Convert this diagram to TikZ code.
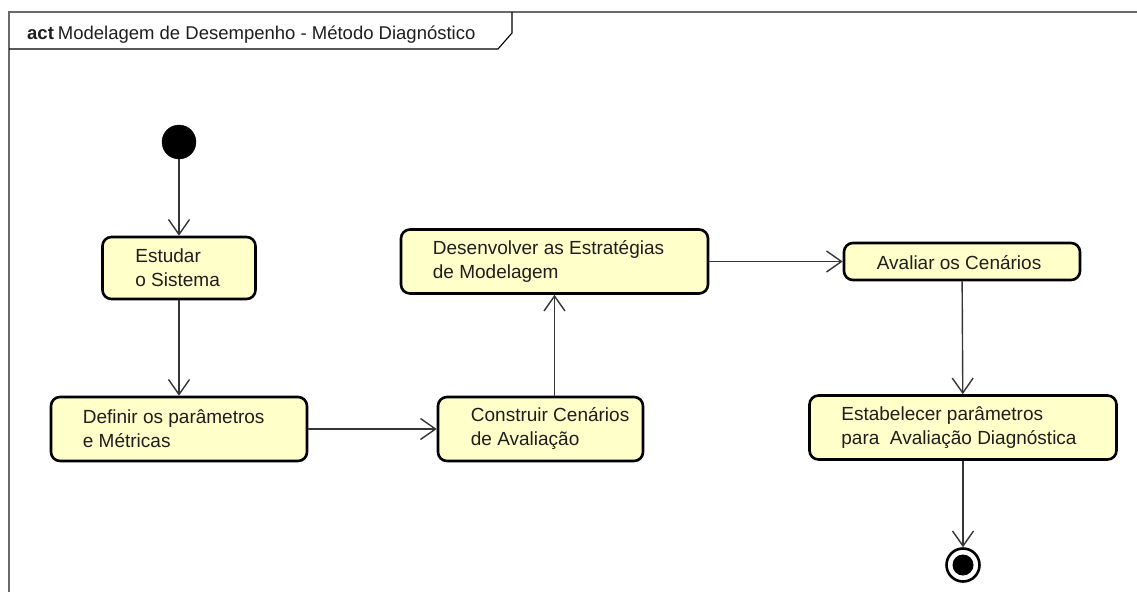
\documentclass[tikz,border=0pt]{standalone}
\usepackage{fontspec}
\setmainfont{Liberation Sans}
\usetikzlibrary{arrows.meta}
\definecolor{actfill}{HTML}{FFFFCA}
\definecolor{framegray}{HTML}{6A6A6A}
\definecolor{ink}{HTML}{1E1E1E}
\begin{document}
\begin{tikzpicture}[x=1pt,y=-1pt,
  every node/.style={font=\fontsize{19}{24}\selectfont, text=ink},
  actbox/.style={draw=black, rounded corners=9pt, line width=2.6pt, fill=actfill, inner sep=0pt},
  actlabel/.style={anchor=west, align=left, inner sep=0pt},
  flow/.style={draw=ink!90, line width=1.4pt, -{Straight Barb[length=15pt,width=21pt,line width=1.4pt]}},
  startdot/.style={circle, fill=black, draw=black, minimum size=34pt, inner sep=0pt},
  endring/.style={circle, draw=black, fill=white, line width=2.6pt, minimum size=33pt, inner sep=0pt},
  enddot/.style={circle, fill=black, minimum size=21pt, inner sep=0pt}]
\useasboundingbox (0,0) rectangle (1137,592);

% diagram frame and header tag
\draw[framegray, line width=2pt] (1137,12) -- (9,12) -- (9,592);
\draw[black, line width=1.1pt] (9,49) -- (498,49) -- (512,33) -- (512,12);
\node[anchor=base west, inner sep=0pt, font=\fontsize{18.5}{24}\selectfont] (title) at (27,39) {\textbf{act}\hspace{4pt}Modelagem de Desempenho - Método Diagnóstico};

% initial and final states
\node[startdot] (init) at (179,142) {};
\node[endring] (fin) at (963,565) {};
\node[enddot] (finin) at (963,565) {};

% actions
\node[actbox, minimum width=153pt, minimum height=62pt] (est) at (179,268) {};
\node[actlabel] (estT) at ([xshift=34pt]est.west) {Estudar\\o Sistema};

\node[actbox, minimum width=256pt, minimum height=64pt] (def) at (179,429) {};
\node[actlabel] (defT) at ([xshift=33pt]def.west) {Definir os parâmetros\\e Métricas};

\node[actbox, minimum width=205pt, minimum height=64pt] (con) at (540.5,429) {};
\node[actlabel] (conT) at ([xshift=34pt]con.west) {Construir Cenários\\de Avaliação};

\node[actbox, minimum width=307pt, minimum height=64pt] (des) at (554.5,261.5) {};
\node[actlabel] (desT) at ([xshift=33pt]des.west) {Desenvolver as Estratégias\\de Modelagem};

\node[actbox, minimum width=236pt, minimum height=37pt] (ava) at (962,261.5) {};
\node[actlabel] (avaT) at ([xshift=34pt,yshift=-1pt]ava.west) {Avaliar os Cenários};

\node[actbox, minimum width=307pt, minimum height=64pt] (esb) at (963,427.5) {};
\node[actlabel] (esbT) at ([xshift=33pt]esb.west) {Estabelecer parâmetros\\para\ \ Avaliação Diagnóstica};

% control flows
\draw[flow] (init) -- (est);
\draw[flow] (est) -- (def);
\draw[flow] (def) -- (con);
\draw[flow] (con.north -| des.south) -- (des.south);
\draw[flow] (des) -- (ava);
\draw[flow] (ava) -- (esb);
\draw[flow] (esb) -- (fin);
\end{tikzpicture}
\end{document}
